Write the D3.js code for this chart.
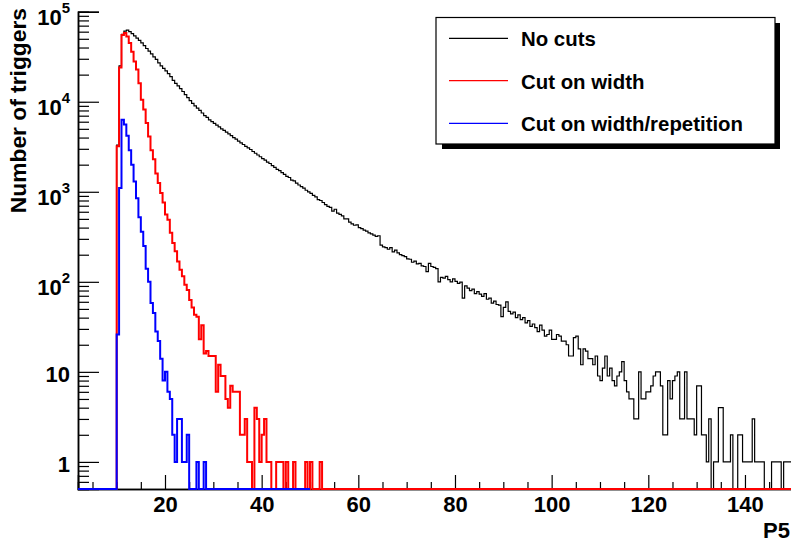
<!DOCTYPE html>
<html>
<head>
<meta charset="utf-8">
<script src="https://cdn.jsdelivr.net/npm/d3@7"></script>
<style>
  body { margin: 0; background: #fff; }
  text { font-family: "Liberation Sans", Arial, sans-serif; font-weight: bold; }
</style>
</head>
<body>
<div id="chartContainer"></div>
<script>
// histogram binning (P5 units)
var binStart = 10;
var binWidth = 0.5;

// "No cuts", bins from 10.0 to 149.5
var noCuts = [
  3300, 25000, 56000, 61000, 62500, 60000, 57000, 54000, 51000, 48000,
  45000, 42000, 39000, 36500, 34000, 31500, 29500, 27000, 25000, 23500,
  22000, 20500, 19000, 17300, 16000, 15000, 14000, 13000, 12000, 11100,
  10300, 9600, 9000, 8500, 8000, 7500, 7000, 6700, 6300, 6000,
  5750, 5500, 5250, 5000, 4800, 4600, 4400, 4200, 4000, 3850,
  3650, 3500, 3350, 3200, 3080, 2950, 2800, 2680, 2560, 2450,
  2340, 2250, 2130, 2060, 1950, 1870, 1770, 1720, 1630, 1560,
  1480, 1440, 1350, 1320, 1250, 1190, 1140, 1100, 1040, 1000,
  960, 910, 880, 820, 800, 760, 720, 690, 670, 610,
  640, 580, 560, 540, 500, 500, 460, 440, 425, 430,
  400, 390, 375, 365, 350, 340, 330, 320, 325, 255,
  245, 240, 230, 240, 215, 225, 210, 200, 195, 190,
  180, 178, 165, 170, 158, 160, 150, 148, 130, 160,
  148, 145, 140, 100, 112, 110, 115, 106, 100, 108,
  101, 96, 99, 66, 90, 85, 80, 83, 74, 78,
  73, 69, 74, 64, 66, 58, 61, 56, 55, 41,
  52, 60, 47, 44, 46, 40, 43, 38, 40, 35,
  37, 32, 34, 31, 28, 33, 29, 25, 26, 29,
  23, 23, 26, 25, 22, 22, 20, 15, 15, 24,
  25, 18, 12, 18, 17, 14, 14, 12, 15, 9,
  8, 11, 15, 9, 11, 8, 7, 9, 10, 13,
  8, 6, 5, 5, 3, 3, 10, 5, 5, 6,
  6, 7, 9, 10, 10, 7, 2, 2, 8, 5,
  8, 9, 10, 3, 3, 10, 3, 3, 3, 2,
  7, 7, 2, 2, 1, 3, 0, 1, 1, 4,
  4, 1, 1, 1, 2, 0, 0, 2, 2, 1,
  1, 1, 1, 3, 1, 1, 1, 1, 0, 0,
  0, 1, 1, 1, 1, 0, 1, 1, 1, 1
];

// "Cut on width", bins from 10.0 to 52.0
var cutWidth = [
  3200, 24000, 55000, 58000, 53000, 45000, 36000, 28000, 22800, 16000,
  10500, 8200, 5800, 4100, 2900, 2300, 1600, 1250, 970, 760,
  560, 490, 350, 270, 218, 168, 136, 115, 93, 81,
  63, 52, 43, 41, 23, 33, 16, 17, 15, 15,
  15, 6, 12, 9, 9, 5, 4, 7, 6, 6,
  6, 2, 2, 3, 1, 1, 0, 4, 3, 1,
  2, 3, 1, 1, 0, 0, 1, 1, 1, 0,
  1, 0, 0, 1, 0, 0, 0, 0, 1, 0,
  1, 0, 0, 0, 1
];

// "Cut on width/repetition", bins from 10.0 to 28.0
var cutWidthRep = [
  26, 1100, 6300, 5600, 4200, 2900, 2000, 1300, 850, 520,
  360, 250, 140, 100, 58, 45, 28, 22, 14, 8,
  10, 6, 5, 2, 1, 3, 3, 1, 1, 2,
  0, 0, 0, 1, 0, 0, 1
];

var seriesNames = ["No cuts", "Cut on width", "Cut on width/repetition"];
var seriesColors = ["#000000", "#ff0000", "#0000ff"];
var seriesEnds = [150, 150, 50];

var xTicks = [20, 40, 60, 80, 100, 120, 140];
var yTicks = [1, 10, 100, 1000, 10000, 100000];

var WIDTH = 791, HEIGHT = 546;
var MARGINS = { left: 78, top: 11.7, bottom: 489, right: 793.3 };

var svg = d3.select("#chartContainer").append("svg")
  .attr("width", WIDTH)
  .attr("height", HEIGHT);

var xRange = d3.scaleLinear().domain([2, 150]).range([MARGINS.left, MARGINS.right]);
var yRange = d3.scaleLog().domain([0.5, 1e5]).range([MARGINS.bottom, MARGINS.top]).clamp(true);

svg.append("clipPath").attr("id", "frame")
  .append("rect")
  .attr("x", MARGINS.left).attr("y", 0)
  .attr("width", MARGINS.right - MARGINS.left)
  .attr("height", MARGINS.bottom + 2);

// x axis: major every 20, minor every 5, ticks pointing inside
var xMinor = d3.range(5, 151, 5).filter(function (d) { return d % 20 !== 0; });

var xAxis = svg.append("g")
  .attr("transform", "translate(0," + MARGINS.bottom + ")")
  .call(d3.axisBottom(xRange).tickValues(xTicks).tickSize(-14).tickPadding(7).tickFormat(d3.format("d")));
xAxis.selectAll("text").style("font-size", "22px").attr("fill", "#000");

svg.append("g")
  .attr("transform", "translate(0," + MARGINS.bottom + ")")
  .call(d3.axisBottom(xRange).tickValues(xMinor).tickSize(-7).tickFormat(""));

// y axis: decades plus minor ticks 2..9
var yMinor = [];
[0.1, 1, 10, 100, 1000, 10000].forEach(function (dec) {
  for (var k = 2; k <= 9; k++) {
    if (dec * k >= 0.5 && dec * k <= 1e5) yMinor.push(dec * k);
  }
});

svg.append("g")
  .attr("transform", "translate(" + MARGINS.left + ",0)")
  .call(d3.axisLeft(yRange).tickValues(yTicks).tickSize(-21).tickFormat(""));

svg.append("g")
  .attr("transform", "translate(" + MARGINS.left + ",0)")
  .call(d3.axisLeft(yRange).tickValues(yMinor).tickSize(-11).tickFormat(""));

svg.selectAll(".domain").attr("stroke", "#000").attr("stroke-width", 1.5);
svg.selectAll(".tick line").attr("stroke", "#000").attr("stroke-width", 1.2);

// y labels: 1, 10, then 10^n
yTicks.forEach(function (v) {
  var p = Math.round(Math.log10(v));
  var t = svg.append("text")
    .attr("x", 70)
    .attr("text-anchor", "end")
    .style("font-size", "22px");
  if (p < 2) {
    t.attr("y", yRange(v) + 10).text(v);
  } else {
    t.attr("y", yRange(v) + 13).text("10");
    t.append("tspan").attr("dy", -12).style("font-size", "15px").text(p);
  }
});

// axis titles
svg.append("text")
  .attr("transform", "translate(26,8) rotate(-90)")
  .attr("text-anchor", "end")
  .style("font-size", "22.8px")
  .text("Number of triggers");

svg.append("text")
  .attr("x", 763).attr("y", 538)
  .style("font-size", "22px")
  .text("P5");

// histograms, zero bins sit on the lower frame edge
var lineFunc = d3.line()
  .x(function (d) { return xRange(d[0]); })
  .y(function (d) { return yRange(Math.max(d[1], 0.5)); })
  .curve(d3.curveStepAfter);

function histPoints(values, end) {
  var pts = [[2, 0]];
  values.forEach(function (v, i) { pts.push([binStart + i * binWidth, v]); });
  pts.push([binStart + values.length * binWidth, 0]);
  pts.push([end, 0]);
  return pts;
}

[noCuts, cutWidth, cutWidthRep].forEach(function (vals, i) {
  svg.append("path")
    .attr("clip-path", "url(#frame)")
    .attr("d", lineFunc(histPoints(vals, seriesEnds[i])))
    .attr("stroke", seriesColors[i])
    .attr("stroke-width", i === 0 ? 1.2 : 2)
    .attr("fill", "none");
});

// legend with shadow
var leg = svg.append("g");
leg.append("rect")
  .attr("x", 442).attr("y", 23).attr("width", 338).attr("height", 126)
  .attr("fill", "#000");
leg.append("rect")
  .attr("x", 436).attr("y", 17.5).attr("width", 339).attr("height", 126.5)
  .attr("fill", "#fff").attr("stroke", "#000").attr("stroke-width", 1.2);

var rowY = [38.3, 80.7, 123.3];
seriesNames.forEach(function (name, i) {
  leg.append("line")
    .attr("x1", 449).attr("x2", 508)
    .attr("y1", rowY[i]).attr("y2", rowY[i])
    .attr("stroke", seriesColors[i]).attr("stroke-width", 1.2);
  leg.append("text")
    .attr("x", 521).attr("y", rowY[i] + 8)
    .style("font-size", "20.4px")
    .text(name);
});
</script>
</body>
</html>
